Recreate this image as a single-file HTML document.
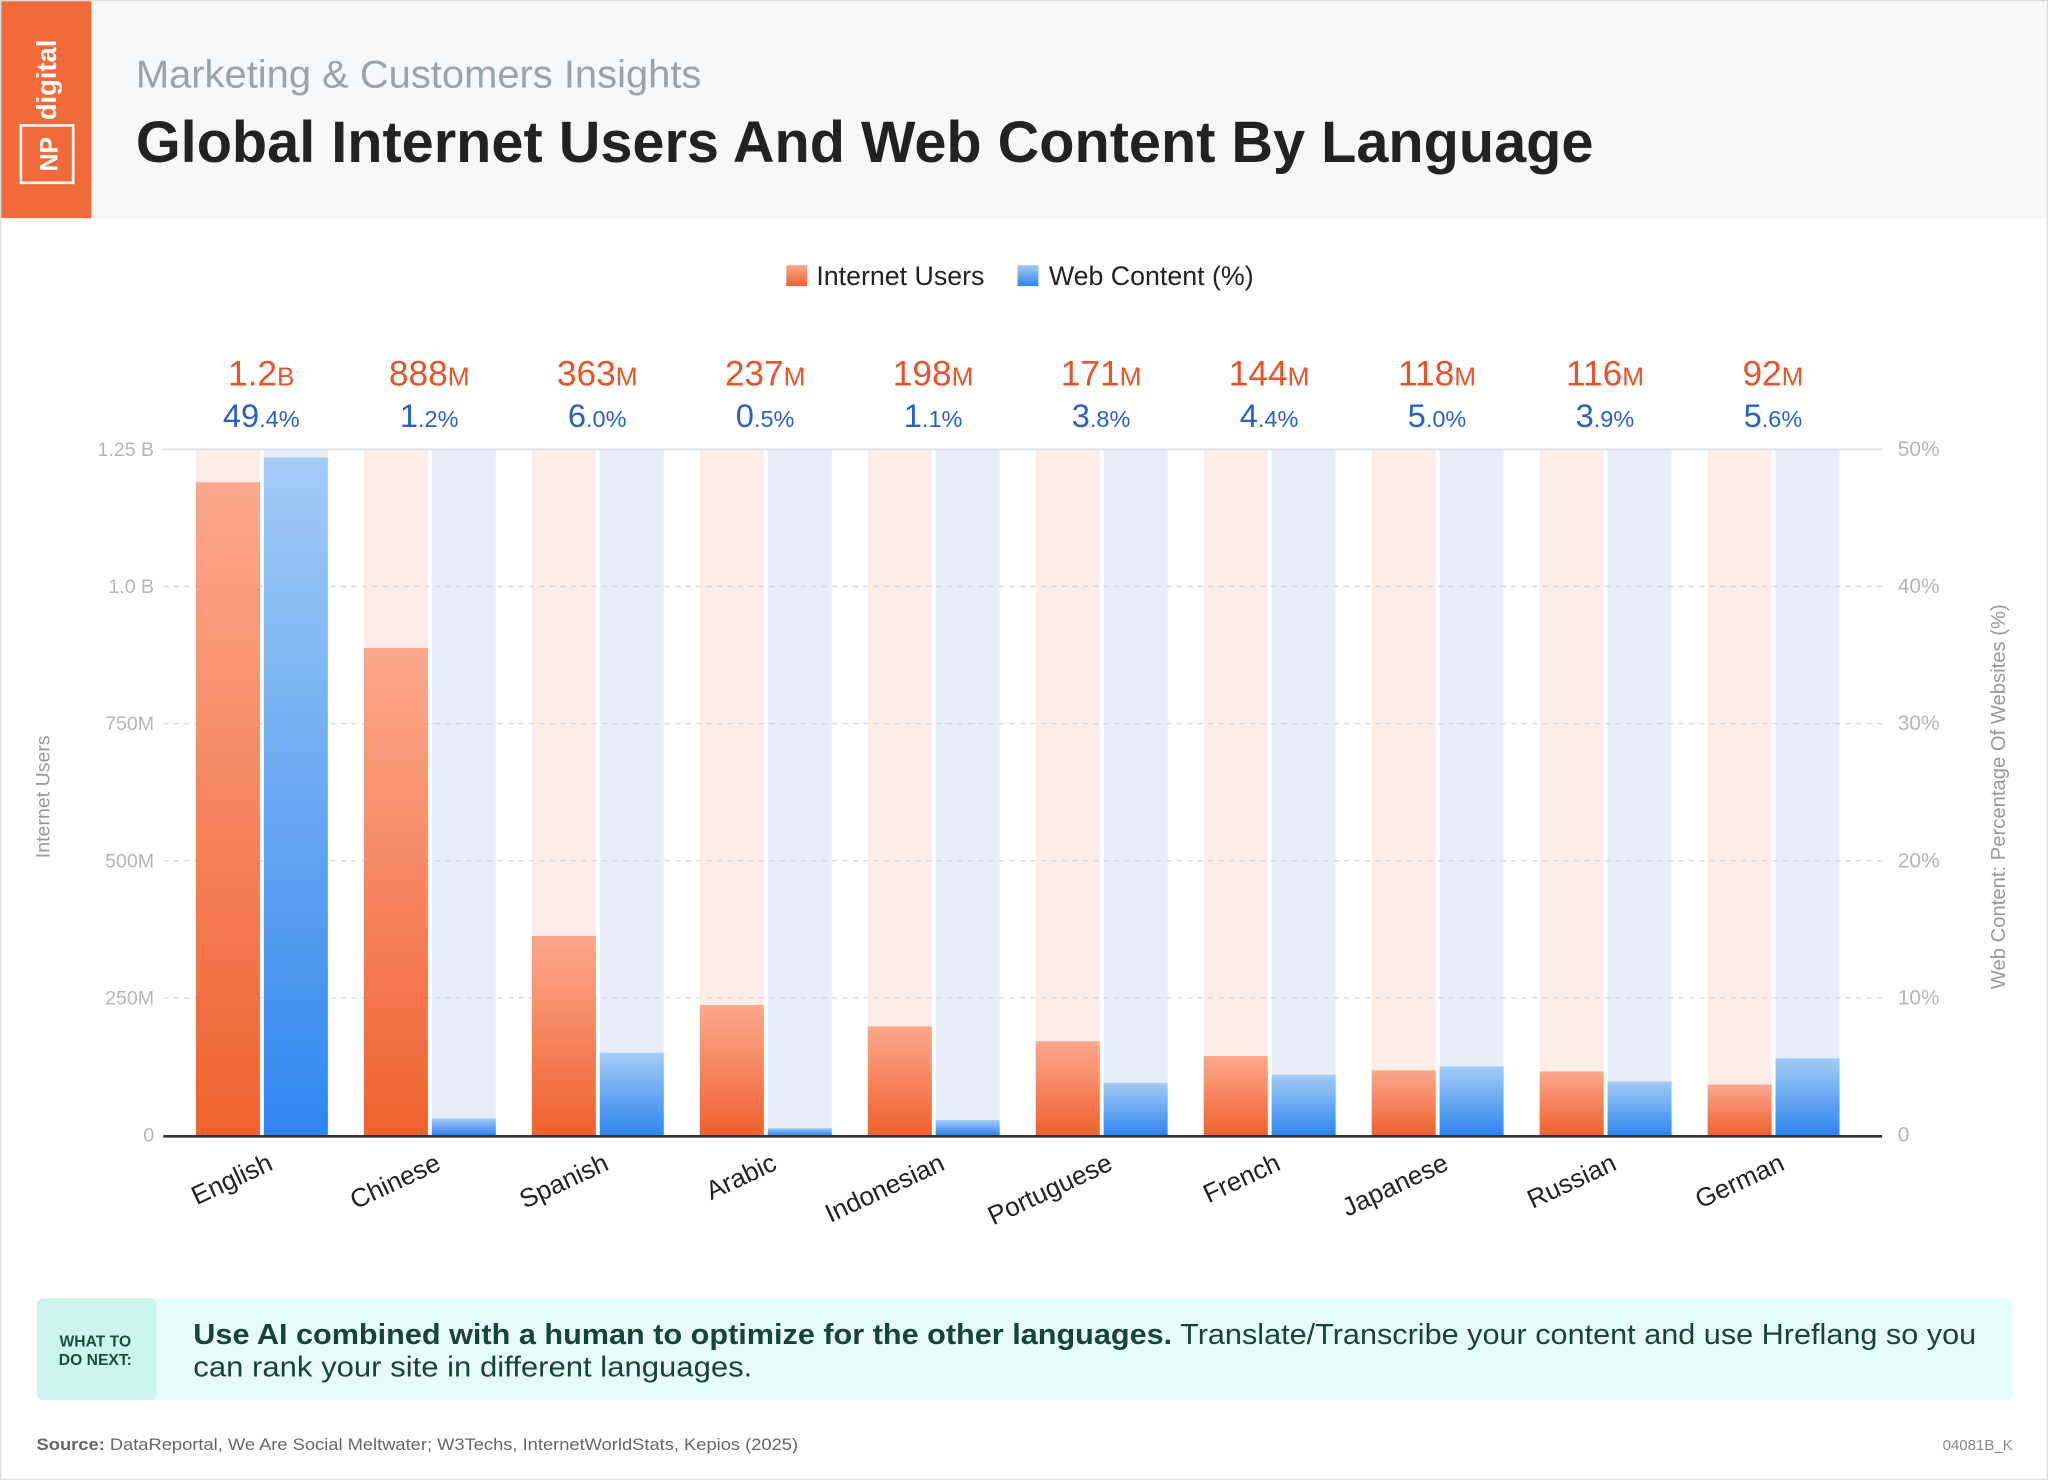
<!DOCTYPE html>
<html><head><meta charset="utf-8"><style>
html,body{margin:0;padding:0;background:#fff;width:2048px;height:1480px;overflow:hidden}
svg{display:block;font-family:"Liberation Sans",sans-serif}
</style></head><body>
<svg id="chart" width="2048" height="1480" viewBox="0 0 1568 1133.1" xmlns="http://www.w3.org/2000/svg">
<defs>
<linearGradient id="gO" x1="0" y1="0" x2="0" y2="1"><stop offset="0" stop-color="#fca88c"/><stop offset="1" stop-color="#f0612f"/></linearGradient>
<linearGradient id="gB" x1="0" y1="0" x2="0" y2="1"><stop offset="0" stop-color="#a3cbf5"/><stop offset="1" stop-color="#2f86ef"/></linearGradient>
</defs>
<rect x="0.5" y="0.5" width="1567" height="1132" fill="#fff" stroke="#dcdcdc"/>
<rect x="1" y="1" width="1566" height="166" fill="#f6f7f8"/>
<rect x="1" y="1" width="69" height="166" fill="#f26a3a"/>
<text transform="translate(43,92) rotate(-90)" x="0" y="0" fill="#fff" font-size="21" font-weight="bold">digital</text>
<text transform="translate(44,118) rotate(-90)" text-anchor="middle" fill="#fff" font-size="19" font-weight="bold">NP</text>
<rect x="16" y="96" width="40" height="44" fill="none" stroke="#fff" stroke-width="2"/>
<text x="104" y="67" fill="#9aa3a8" font-size="30" textLength="433" lengthAdjust="spacingAndGlyphs">Marketing &amp; Customers Insights</text>
<text x="104" y="124" fill="#222" font-size="45" font-weight="bold" textLength="1116" lengthAdjust="spacingAndGlyphs">Global Internet Users And Web Content By Language</text>

<g>
<rect x="602" y="203" width="16" height="16" fill="url(#gO)"/>
<text x="625" y="218" font-size="20.5" fill="#222">Internet Users</text>
<rect x="779" y="203" width="16" height="16" fill="url(#gB)"/>
<text x="803" y="218" font-size="20.5" fill="#222">Web Content (%)</text>
</g>
<g id="plot"></g>

<text transform="translate(38,610) rotate(-90)" text-anchor="middle" font-size="15" fill="#999">Internet Users</text>
<text transform="translate(1535,610) rotate(-90)" text-anchor="middle" font-size="15.5" fill="#999">Web Content: Percentage Of Websites (%)</text>

<g>
<rect x="28" y="994" width="1513" height="78" rx="5" fill="#e6fcf8"/>
<rect x="28" y="994" width="92" height="78" rx="5" fill="#cdf5ef"/>
<text x="73" y="1031" text-anchor="middle" font-size="12" font-weight="bold" fill="#1d4d3e">WHAT TO</text>
<text x="73" y="1045" text-anchor="middle" font-size="12" font-weight="bold" fill="#1d4d3e">DO NEXT:</text>
<text x="148" y="1029" font-size="22" fill="#17433a" textLength="1365" lengthAdjust="spacingAndGlyphs"><tspan font-weight="bold">Use AI combined with a human to optimize for the other languages.</tspan> Translate/Transcribe your content and use Hreflang so you</text>
<text x="148" y="1054" font-size="22" fill="#17433a" textLength="428" lengthAdjust="spacingAndGlyphs">can rank your site in different languages.</text>
</g>
<text x="28" y="1110" font-size="12.5" fill="#666" textLength="583" lengthAdjust="spacingAndGlyphs"><tspan font-weight="bold">Source:</tspan> DataReportal, We Are Social Meltwater; W3Techs, InternetWorldStats, Kepios (2025)</text>
<text x="1541" y="1110" font-size="11.5" fill="#888" text-anchor="end">04081B_K</text>
</svg>
<script>
const categories=["English","Chinese","Spanish","Arabic","Indonesian","Portuguese","French","Japanese","Russian","German"];
const usersM=[1190,888,363,237,198,171,144,118,116,92];
const contentPct=[49.4,1.2,6.0,0.5,1.1,3.8,4.4,5.0,3.9,5.6];
const usersLabelNum=["1.2","888","363","237","198","171","144","118","116","92"];
const usersLabelUnit=["B","M","M","M","M","M","M","M","M","M"];
const leftTicks=[0,250,500,750,1000,1250];
const leftTickLabels=["0","250M","500M","750M","1.0 B","1.25 B"];
const rightTicks=[0,10,20,30,40,50];
const NS="http://www.w3.org/2000/svg";
const plotG=document.getElementById('plot');
const Y0=869,Y1=344;
function yL(v){return Y0-(v/1250)*(Y0-Y1);}
function yR(v){return Y0-(v/50)*(Y0-Y1);}
function xG(i){return 150+i*128.6;}
const BW=49;
function mk(tag,attrs){const e=document.createElementNS(NS,tag);for(const k in attrs)e.setAttribute(k,attrs[k]);plotG.appendChild(e);return e;}
categories.forEach((c,i)=>{
  const a=mk('rect',{x:xG(i),y:Y1,width:BW,height:Y0-Y1,fill:'#fdede7'});
  
  
  const b=mk('rect',{x:xG(i)+52,y:Y1,width:BW,height:Y0-Y1,fill:'#e6ecf8'});
  
  
});
leftTicks.forEach((t,i)=>{
  const y=yL(t);
  if(t>0&&t<1250){const g=mk('line',{x1:125,x2:1441,y1:y,y2:y,stroke:'#d4d8de','stroke-dasharray':'4 4'});
  
  }
  const tx=mk('text',{x:118,y:y+5,'text-anchor':'end','font-size':15,fill:'#b5b5b5'});
  tx.textContent=leftTickLabels[i];
  
  
});
rightTicks.forEach(t=>{
  const tx=mk('text',{x:1453,y:yR(t)+5,'font-size':16,fill:'#b5b5b5'});
  tx.textContent=t===0?'0':t+'%';
  
  
});
const topLine=mk('line',{x1:125,x2:1441,y1:Y1,y2:Y1,stroke:'#dde0e4','stroke-width':1.5});


categories.forEach((c,i)=>{
  const yu=yL(usersM[i]);
  const a=mk('rect',{x:xG(i),y:yu,width:BW,height:Y0-yu,fill:'url(#gO)'});
  
  
  const yc=yR(contentPct[i]);
  const b=mk('rect',{x:xG(i)+52,y:yc,width:BW,height:Y0-yc,fill:'url(#gB)'});
  
  
  const cx=xG(i)+50;
  const t1=mk('text',{x:cx,y:295,'text-anchor':'middle','font-size':27,fill:'#e8542a'});
  t1.innerHTML=usersLabelNum[i]+'<tspan font-size="20">'+usersLabelUnit[i]+'</tspan>';
  
  
  const s=contentPct[i].toFixed(1).split('.');
  const t2=mk('text',{x:cx,y:327,'text-anchor':'middle','font-size':25,fill:'#2a5fc4'});
  t2.innerHTML=s[0]+'<tspan font-size="18">.'+s[1]+'%</tspan>';
  
  
  const lb=mk('text',{'text-anchor':'end','font-size':20,fill:'#222',transform:'translate('+(cx+10)+',895) rotate(-25)'});
  lb.textContent=c;
  
  
});
const base=mk('line',{x1:125,x2:1441,y1:Y0+1,y2:Y0+1,stroke:'#333','stroke-width':2});


</script>
</body></html>
